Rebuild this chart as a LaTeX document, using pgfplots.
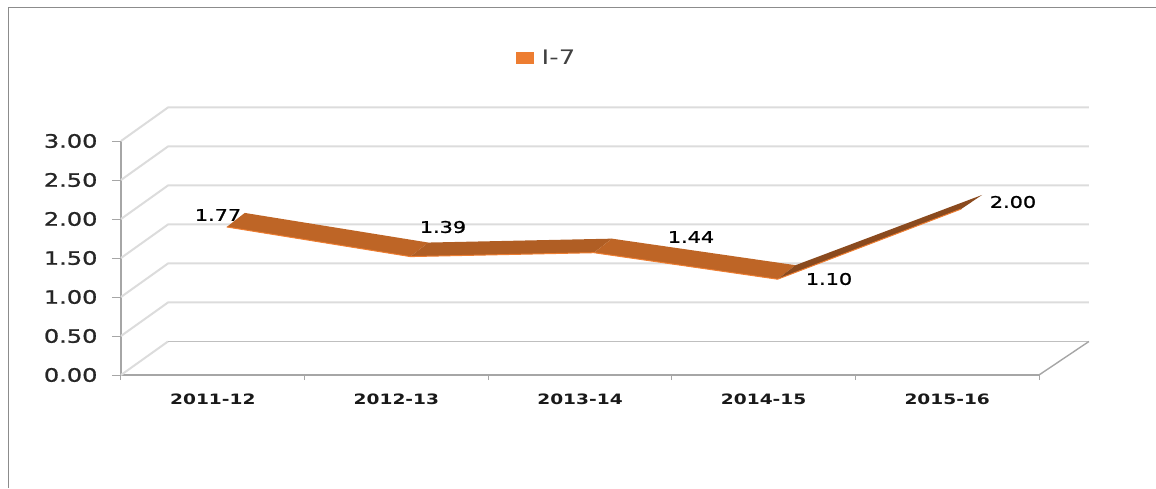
\documentclass[border=0pt]{standalone}
\usepackage{pgfplots}
\usepackage{fontspec}
\pgfplotsset{compat=1.18}
\setmainfont[FakeStretch=1.3]{DejaVu Sans}
\newfontfamily\labfont[FakeStretch=1.3,FakeBold=1.2]{DejaVu Sans}

\definecolor{ribbon}{HTML}{BE6526}
\definecolor{ribbonb}{HTML}{B05E24}
\definecolor{ribbonc}{HTML}{8A4A1E}
\definecolor{edgeor}{HTML}{ED7D31}
\definecolor{gridg}{HTML}{DCDCDC}
\definecolor{axisg}{HTML}{A6A6A6}

% c = category centre, v = value, dx dy = label offset in pt
\pgfplotstableread{
c   v    dx    dy
0.5 1.77 5.2   22
1.5 1.39 46.6  39.6
2.5 1.44 111   25.7
3.5 1.10 65.4  10.2
4.5 2.00 65.8  17
}\datatable

\begin{document}
\begin{tikzpicture}
\path[use as bounding box] (-121pt,-113pt) rectangle (1035pt,375pt);
\draw[black!45,line width=1.5pt] (-112.5pt,-113pt) -- (-112.5pt,367.5pt) -- (1035pt,367.5pt);
\begin{axis}[
    scale only axis,
    width=918pt, height=234pt,
    xmin=0, xmax=5,
    ymin=0, ymax=3,
    clip=false,
    axis lines=left,
    axis line style={-, axisg},
    y axis line style={line width=2.2pt},
    x axis line style={line width=1.4pt},
    xtick={0.5,1.5,2.5,3.5,4.5},
    xticklabels={2011-12,2012-13,2013-14,2014-15,2015-16},
    xtick style={draw=none},
    extra x ticks={0,1,2,3,4,5},
    extra x tick labels={},
    extra x tick style={xtick style={draw=axisg, line width=1pt}, major tick length=5pt, tick align=outside},
    ytick={0,0.5,1,1.5,2,2.5,3},
    yticklabel style={/pgf/number format/fixed, /pgf/number format/fixed zerofill, /pgf/number format/precision=2, font=\labfont\fontsize{18.5}{18.5}\selectfont, text=black!85, xshift=-11pt},
    /pgf/number format/assume math mode=true,
    xticklabel style={font=\bfseries\fontsize{14.3}{14.3}\selectfont, text=black!90, yshift=-6pt},
    tick align=outside,
    major tick length=9pt,
    ytick style={axisg, line width=1pt},
    legend style={at={(0.43,1.355)}, anchor=west, inner sep=0pt, outer sep=0pt, draw=none, fill=none, font=\fontsize{20}{20}\selectfont, text=black!75},
    legend image code/.code={\fill[edgeor,draw=none] (0pt,-6pt) rectangle (18pt,6pt); \path[draw=none,fill=none] (0pt,0pt) -- (24pt,0pt);},
    unbounded coords=jump,
]
% side wall and back wall
\addplot[gridg, line width=2pt, forget plot] table {
x y
0 0.5
0.256 0.93
5.272 0.93
nan nan
0 1
0.256 1.43
5.272 1.43
nan nan
0 1.5
0.256 1.93
5.272 1.93
nan nan
0 2
0.256 2.43
5.272 2.43
nan nan
0 2.5
0.256 2.93
5.272 2.93
nan nan
0 3
0.256 3.43
5.272 3.43
};
\addplot[gridg, line width=2pt, forget plot] coordinates {(0,0)(0.256,0.43)};
\addplot[black!25, line width=1.8pt, forget plot] coordinates {(0.256,0.43)(5.272,0.43)};
\addplot[axisg, line width=1.4pt, forget plot] coordinates {(5,0)(5.272,0.43)};
% ribbon, one face per segment
\addplot[fill=ribbon, draw=none, forget plot] coordinates {(0.576,1.898)(0.674,2.078)(1.674,1.698)(1.576,1.518)} --cycle;
\addplot[fill=ribbonb, draw=none, forget plot] coordinates {(1.576,1.518)(1.674,1.698)(2.674,1.748)(2.576,1.568)} --cycle;
\addplot[fill=ribbon, draw=none, forget plot] coordinates {(2.576,1.568)(2.674,1.748)(3.674,1.408)(3.576,1.228)} --cycle;
\addplot[fill=ribbonc, draw=none, forget plot] coordinates {(3.576,1.228)(3.674,1.408)(4.69,2.308)(4.576,2.128)} --cycle;
\addplot[edgeor, line width=1pt, forget plot] coordinates {(0.576,1.898)(1.576,1.518)(2.576,1.568)(3.576,1.228)(4.576,2.128)};
% value labels
\addplot[draw=none, forget plot,
    point meta=\thisrow{v},
    visualization depends on={\thisrow{dx} \as \labdx},
    visualization depends on={\thisrow{dy} \as \labdy},
    nodes near coords,
    nodes near coords style={
        anchor=center, inner sep=0pt, text=black,
        font=\labfont\fontsize{16}{16}\selectfont,
        /pgf/number format/fixed, /pgf/number format/fixed zerofill, /pgf/number format/precision=2,
        xshift=\labdx pt, yshift=\labdy pt},
] table[x=c, y=v] {\datatable};
\addlegendimage{}
\addlegendentry{I-7}
\end{axis}
\end{tikzpicture}
\end{document}
